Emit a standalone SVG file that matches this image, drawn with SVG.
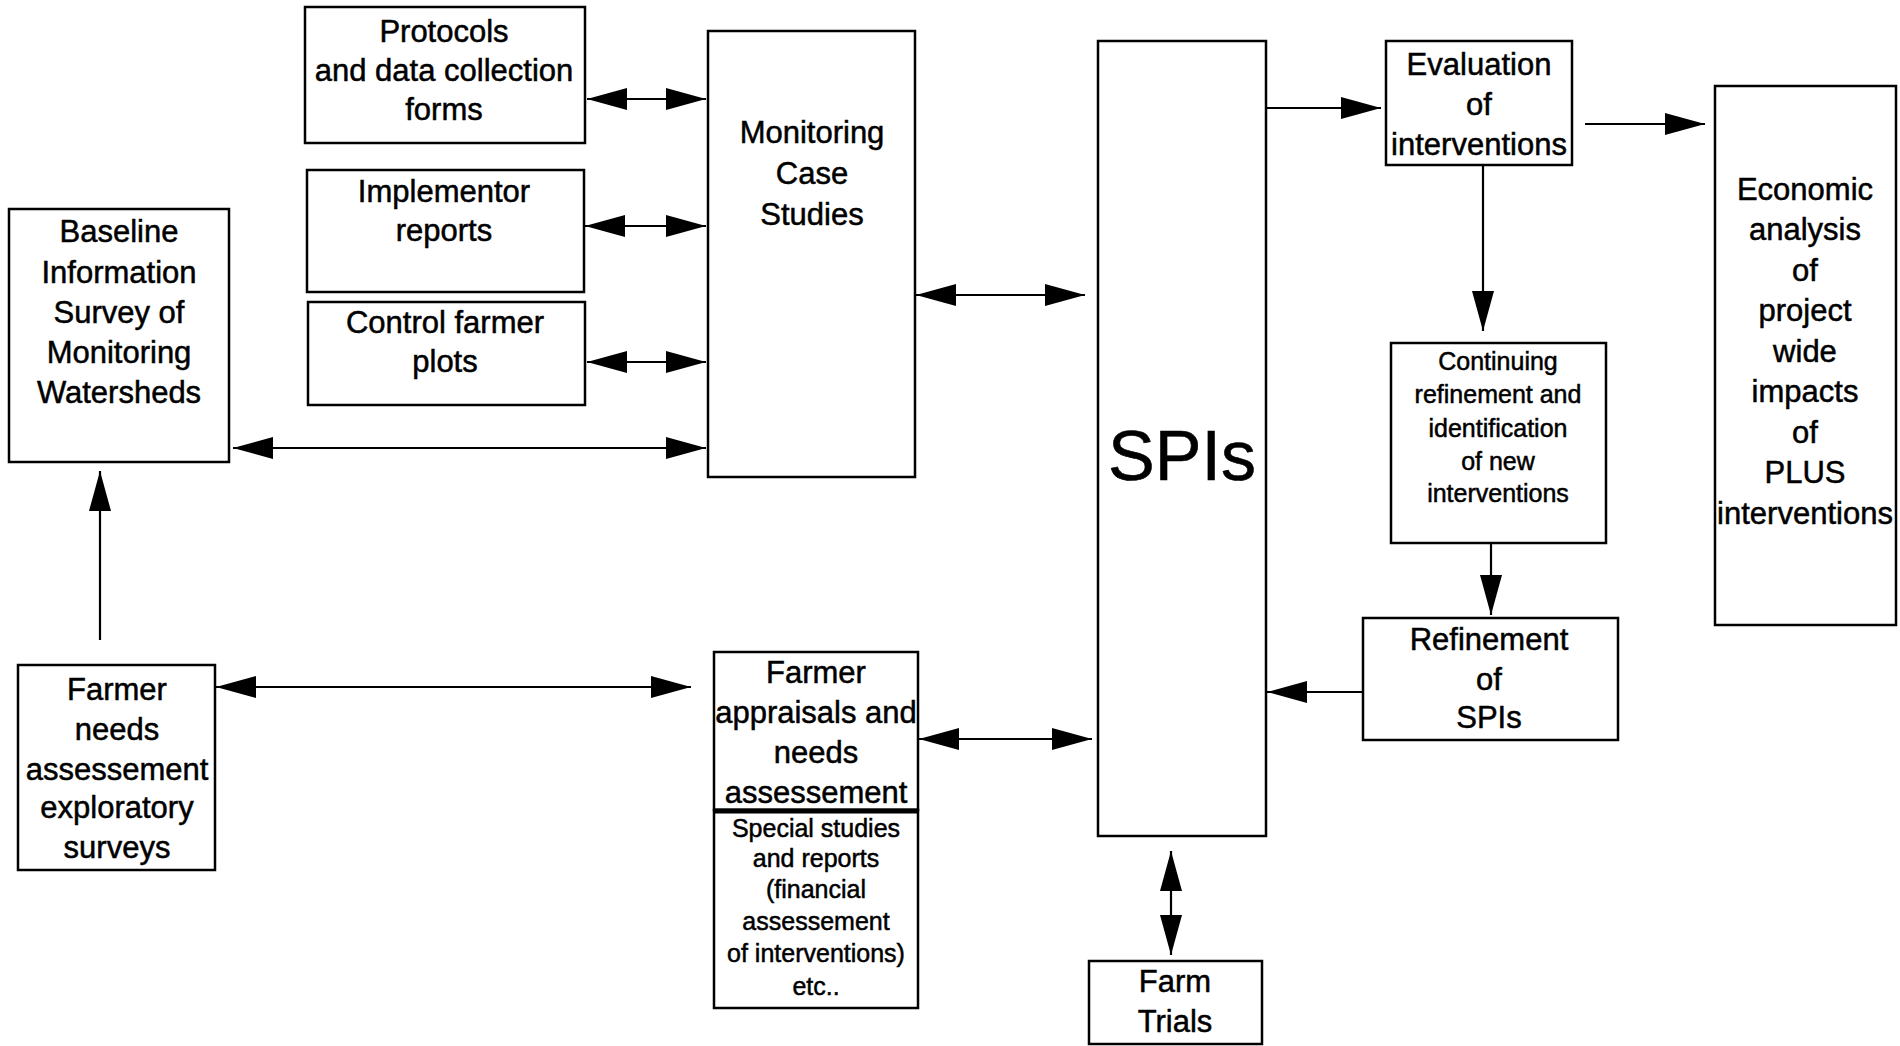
<svg xmlns="http://www.w3.org/2000/svg" width="1900" height="1046" viewBox="0 0 1900 1046">
<style>
.box{fill:#fff;stroke:#000;stroke-width:2.5}
.t{font-family:"Liberation Sans",Arial,sans-serif;font-size:31px;fill:#000;text-anchor:middle;stroke:#000;stroke-width:0.5}
.s{font-size:25px}
.big{font-size:70px;stroke-width:0.6}
.c{stroke:#000;stroke-width:2.2;fill:none}
.d{marker-start:url(#ah);marker-end:url(#ah)}
.e{marker-end:url(#ah)}
</style>
<defs>
<marker id="ah" markerUnits="userSpaceOnUse" markerWidth="42" markerHeight="24" viewBox="0 0 42 24" refX="41" refY="12" orient="auto-start-reverse">
<path d="M1,1 L41,12 L1,23 Z" fill="#000"/>
</marker>
</defs>
<rect width="1900" height="1046" fill="#fff"/>

<g id="connectors">
<line class="c d" x1="587" y1="99" x2="706" y2="99"/>
<line class="c d" x1="585" y1="226" x2="706" y2="226"/>
<line class="c d" x1="587" y1="362" x2="706" y2="362"/>
<line class="c d" x1="233" y1="448" x2="706" y2="448"/>
<line class="c e" x1="100" y1="640" x2="100" y2="471"/>
<line class="c d" x1="216" y1="687" x2="691" y2="687"/>
<line class="c d" x1="916" y1="295" x2="1085" y2="295"/>
<line class="c d" x1="919" y1="739" x2="1092" y2="739"/>
<line class="c e" x1="1263" y1="108" x2="1381" y2="108"/>
<line class="c e" x1="1585" y1="124" x2="1705" y2="124"/>
<line class="c e" x1="1483" y1="165" x2="1483" y2="331"/>
<line class="c e" x1="1491" y1="543" x2="1491" y2="615"/>
<line class="c e" x1="1363" y1="692" x2="1267" y2="692"/>
<line class="c d" x1="1171" y1="851" x2="1171" y2="955"/>
</g>

<g id="protocols">
<rect class="box" x="305" y="7" width="280" height="136"/>
<text class="t" x="444" y="42">Protocols</text>
<text class="t" x="444" y="81">and data collection</text>
<text class="t" x="444" y="120">forms</text>
</g>
<g id="implementor">
<rect class="box" x="307" y="170" width="277" height="122"/>
<text class="t" x="444" y="202">Implementor</text>
<text class="t" x="444" y="241">reports</text>
</g>
<g id="control">
<rect class="box" x="308" y="302" width="277" height="103"/>
<text class="t" x="445" y="333">Control farmer</text>
<text class="t" x="445" y="372">plots</text>
</g>
<g id="monitoring">
<rect class="box" x="708" y="31" width="207" height="446"/>
<text class="t" x="812" y="143">Monitoring</text>
<text class="t" x="812" y="184">Case</text>
<text class="t" x="812" y="225">Studies</text>
</g>
<g id="baseline">
<rect class="box" x="9" y="209" width="220" height="253"/>
<text class="t" x="119" y="242">Baseline</text>
<text class="t" x="119" y="283">Information</text>
<text class="t" x="119" y="323">Survey of</text>
<text class="t" x="119" y="363">Monitoring</text>
<text class="t" x="119" y="403">Watersheds</text>
</g>
<g id="farmerneeds">
<rect class="box" x="18" y="665" width="197" height="205"/>
<text class="t" x="117" y="700">Farmer</text>
<text class="t" x="117" y="740">needs</text>
<text class="t" x="117" y="780">assessement</text>
<text class="t" x="117" y="818">exploratory</text>
<text class="t" x="117" y="858">surveys</text>
</g>
<g id="appraisals">
<rect class="box" x="714" y="652" width="204" height="158"/>
<text class="t" x="816" y="683">Farmer</text>
<text class="t" x="816" y="723">appraisals and</text>
<text class="t" x="816" y="763">needs</text>
<text class="t" x="816" y="803">assessement</text>
</g>
<g id="special">
<rect class="box" x="714" y="810" width="204" height="198"/>
<line x1="714" y1="811" x2="918" y2="811" stroke="#000" stroke-width="5"/>
<text class="t s" x="816" y="837">Special studies</text>
<text class="t s" x="816" y="867">and reports</text>
<text class="t s" x="816" y="898">(financial</text>
<text class="t s" x="816" y="930">assessement</text>
<text class="t s" x="816" y="962">of interventions)</text>
<text class="t s" x="816" y="995">etc..</text>
</g>
<g id="spis">
<rect class="box" x="1098" y="41" width="168" height="795"/>
<text class="t big" x="1182" y="480">SPIs</text>
</g>
<g id="evaluation">
<rect class="box" x="1386" y="41" width="186" height="124"/>
<text class="t" x="1479" y="75">Evaluation</text>
<text class="t" x="1479" y="115">of</text>
<text class="t" x="1479" y="155">interventions</text>
</g>
<g id="economic">
<rect class="box" x="1715" y="86" width="181" height="539"/>
<text class="t" x="1805" y="200">Economic</text>
<text class="t" x="1805" y="240">analysis</text>
<text class="t" x="1805" y="281">of</text>
<text class="t" x="1805" y="321">project</text>
<text class="t" x="1805" y="362">wide</text>
<text class="t" x="1805" y="402">impacts</text>
<text class="t" x="1805" y="443">of</text>
<text class="t" x="1805" y="483">PLUS</text>
<text class="t" x="1805" y="524">interventions</text>
</g>
<g id="continuing">
<rect class="box" x="1391" y="343" width="215" height="200"/>
<text class="t s" x="1498" y="370">Continuing</text>
<text class="t s" x="1498" y="403">refinement and</text>
<text class="t s" x="1498" y="437">identification</text>
<text class="t s" x="1498" y="470">of new</text>
<text class="t s" x="1498" y="502">interventions</text>
</g>
<g id="refinement">
<rect class="box" x="1363" y="618" width="255" height="122"/>
<text class="t" x="1489" y="650">Refinement</text>
<text class="t" x="1489" y="690">of</text>
<text class="t" x="1489" y="728">SPIs</text>
</g>
<g id="farmtrials">
<rect class="box" x="1089" y="961" width="173" height="83"/>
<text class="t" x="1175" y="992">Farm</text>
<text class="t" x="1175" y="1032">Trials</text>
</g>
</svg>
